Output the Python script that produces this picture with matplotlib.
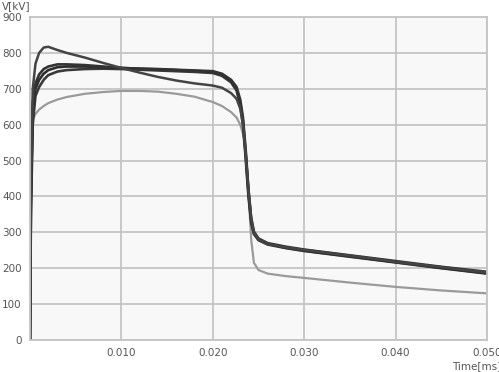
import numpy as np
from matplotlib import pyplot as plt

# time axis (as labelled on the chart) and voltage traces in kV
t = [0, 0.0001, 0.0003, 0.0006, 0.001, 0.0015, 0.002, 0.003, 0.004, 0.006,
     0.008, 0.010, 0.012, 0.014, 0.016, 0.018, 0.020, 0.021, 0.022, 0.0226,
     0.023, 0.0233, 0.0236, 0.0239, 0.0242, 0.0245, 0.025, 0.026, 0.028,
     0.030, 0.035, 0.040, 0.045, 0.050]

v_peak = [0, 450, 700, 770, 800, 815, 817, 808, 800, 787, 772, 758, 745, 733,
          723, 715, 709, 703, 688, 672, 645, 600, 520, 420, 340, 300, 280, 268,
          258, 251, 235, 218, 203, 188]
v_b = [0, 400, 660, 715, 740, 755, 762, 768, 768, 766, 762, 758, 756, 755, 753,
       751, 749, 742, 725, 705, 670, 620, 530, 420, 340, 302, 283, 270, 260,
       252, 236, 220, 204, 190]
v_c = [0, 380, 640, 700, 725, 742, 752, 760, 762, 762, 760, 758, 756, 754, 752,
       750, 747, 740, 722, 700, 662, 610, 515, 410, 332, 297, 280, 268, 257,
       249, 233, 217, 201, 186]
v_d = [0, 350, 600, 680, 705, 725, 738, 748, 752, 755, 756, 755, 753, 751, 749,
       747, 744, 736, 718, 695, 655, 600, 505, 400, 325, 295, 278, 266, 256,
       248, 232, 216, 200, 185]
v_gray = [0, 560, 615, 630, 642, 652, 660, 670, 677, 686, 691, 694, 694, 692,
          686, 678, 663, 652, 635, 620, 600, 575, 530, 420, 280, 215, 195, 185,
          178, 173, 160, 148, 138, 130]

x_ticks = [0.010, 0.020, 0.030, 0.040, 0.050]
x_labels = ["0.010", "0.020", "0.030", "0.040", "0.050"]
y_ticks = np.arange(0, 1000, 100)

fig = plt.figure(figsize=(4.99, 3.72), dpi=100)
ax = fig.add_axes([30 / 499, 1 - 340 / 372, 457 / 499, 323 / 372])
ax.set_facecolor("#f8f8f8")

ax.plot(t, v_gray, color="#9a9a9a", lw=1.6)
ax.plot(t, v_d, color="#3a3a3a", lw=1.9)
ax.plot(t, v_c, color="#2e2e2e", lw=1.9)
ax.plot(t, v_b, color="#333333", lw=1.9)
ax.plot(t, v_peak, color="#444444", lw=1.8)

ax.set_xlim(0, 0.05)
ax.set_ylim(0, 900)
ax.set_xticks(x_ticks)
ax.set_xticklabels(x_labels)
ax.set_yticks(y_ticks)
ax.grid(True, color="#c4c4c4", lw=1.3)
ax.set_axisbelow(True)
ax.tick_params(length=0, labelsize=7.5, labelcolor="#555555", pad=6)
for s in ax.spines.values():
    s.set_color("#c4c4c4")
    s.set_linewidth(1.3)

fig.text(0.004, 1 - 6 / 372, "V[kV]", fontsize=7.5, color="#555555", va="center")
fig.text(452 / 499, 1 - 366 / 372, "Time[ms]", fontsize=7.5, color="#555555", va="center")

plt.savefig("out.png")
